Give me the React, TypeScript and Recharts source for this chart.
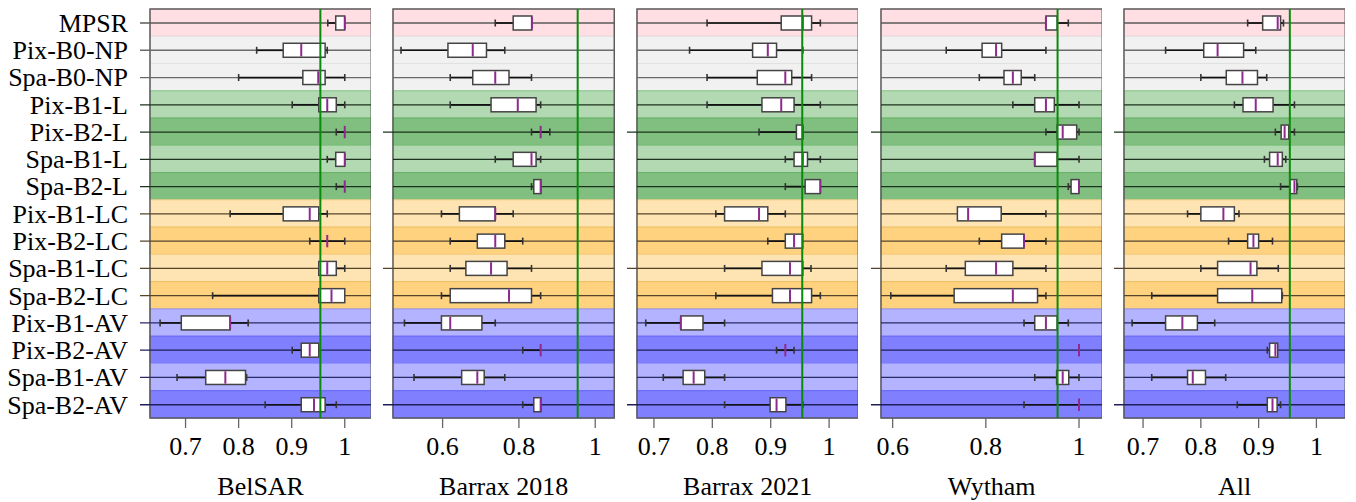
import {
  Bar,
  ComposedChart,
  ReferenceArea,
  ReferenceLine,
  XAxis,
  YAxis,
} from "recharts";

const methods = [
  "MPSR",
  "Pix-B0-NP",
  "Spa-B0-NP",
  "Pix-B1-L",
  "Pix-B2-L",
  "Spa-B1-L",
  "Spa-B2-L",
  "Pix-B1-LC",
  "Pix-B2-LC",
  "Spa-B1-LC",
  "Spa-B2-LC",
  "Pix-B1-AV",
  "Pix-B2-AV",
  "Spa-B1-AV",
  "Spa-B2-AV",
];

// each row: [whisker low, q1, median, q3, whisker high]
const belsar = [
  [0.968, 0.983, 1.0, 1.0, 1.0],
  [0.834, 0.884, 0.918, 0.963, 0.967],
  [0.8, 0.921, 0.95, 0.963, 1.0],
  [0.901, 0.951, 0.967, 0.984, 1.0],
  [0.984, 1.0, 1.0, 1.0, 1.0],
  [0.967, 0.983, 1.0, 1.0, 1.0],
  [0.984, 1.0, 1.0, 1.0, 1.0],
  [0.784, 0.884, 0.934, 0.951, 0.967],
  [0.934, 0.967, 0.967, 0.967, 1.0],
  [0.951, 0.951, 0.967, 0.984, 1.0],
  [0.751, 0.951, 0.975, 1.0, 1.0],
  [0.652, 0.692, 0.784, 0.784, 0.818],
  [0.901, 0.918, 0.934, 0.951, 0.951],
  [0.684, 0.738, 0.775, 0.813, 0.815],
  [0.85, 0.918, 0.942, 0.963, 0.984],
];

const barrax2018 = [
  [0.738, 0.785, 0.834, 0.834, 0.834],
  [0.491, 0.614, 0.679, 0.715, 0.763],
  [0.62, 0.679, 0.738, 0.774, 0.833],
  [0.62, 0.727, 0.797, 0.845, 0.857],
  [0.833, 0.857, 0.857, 0.857, 0.881],
  [0.738, 0.785, 0.833, 0.845, 0.857],
  [0.833, 0.839, 0.857, 0.858, 0.858],
  [0.597, 0.644, 0.738, 0.738, 0.785],
  [0.62, 0.691, 0.738, 0.763, 0.81],
  [0.62, 0.661, 0.727, 0.769, 0.833],
  [0.597, 0.62, 0.774, 0.833, 0.857],
  [0.5, 0.597, 0.62, 0.703, 0.738],
  [0.81, 0.857, 0.857, 0.857, 0.857],
  [0.525, 0.65, 0.691, 0.709, 0.763],
  [0.81, 0.839, 0.857, 0.858, 0.858],
];

const barrax2021 = [
  [0.791, 0.918, 0.955, 0.97, 0.985],
  [0.761, 0.869, 0.895, 0.91, 0.955],
  [0.791, 0.877, 0.925, 0.936, 0.97],
  [0.791, 0.885, 0.918, 0.94, 0.985],
  [0.88, 0.944, 0.955, 0.955, 0.955],
  [0.925, 0.94, 0.955, 0.963, 0.985],
  [0.925, 0.959, 0.985, 0.985, 0.985],
  [0.806, 0.821, 0.88, 0.895, 0.925],
  [0.895, 0.925, 0.94, 0.955, 0.955],
  [0.821, 0.885, 0.933, 0.955, 0.969],
  [0.806, 0.903, 0.933, 0.97, 0.985],
  [0.686, 0.746, 0.746, 0.784, 0.821],
  [0.91, 0.925, 0.925, 0.925, 0.94],
  [0.716, 0.75, 0.768, 0.787, 0.821],
  [0.821, 0.899, 0.91, 0.926, 0.955],
];

const wytham = [
  [0.929, 0.929, 0.929, 0.953, 0.977],
  [0.715, 0.792, 0.822, 0.834, 0.929],
  [0.786, 0.839, 0.858, 0.876, 0.905],
  [0.858, 0.905, 0.929, 0.947, 1.0],
  [0.929, 0.953, 0.965, 0.995, 1.0],
  [0.905, 0.905, 0.905, 0.953, 1.0],
  [0.977, 0.983, 1.0, 1.0, 1.0],
  [0.739, 0.739, 0.762, 0.833, 0.929],
  [0.786, 0.834, 0.882, 0.882, 0.929],
  [0.715, 0.756, 0.822, 0.858, 0.929],
  [0.596, 0.732, 0.858, 0.911, 0.929],
  [0.882, 0.905, 0.929, 0.953, 0.977],
  [1.0, 1.0, 1.0, 1.0, 1.0],
  [0.905, 0.952, 0.965, 0.978, 1.0],
  [0.882, 1.0, 1.0, 1.0, 1.0],
];

const all = [
  [0.881, 0.907, 0.933, 0.938, 0.943],
  [0.739, 0.805, 0.829, 0.874, 0.895],
  [0.8, 0.844, 0.872, 0.898, 0.914],
  [0.858, 0.873, 0.895, 0.925, 0.962],
  [0.929, 0.939, 0.945, 0.952, 0.962],
  [0.91, 0.919, 0.933, 0.941, 0.947],
  [0.938, 0.954, 0.962, 0.966, 0.967],
  [0.777, 0.8, 0.839, 0.858, 0.866],
  [0.848, 0.881, 0.891, 0.9, 0.924],
  [0.8, 0.829, 0.886, 0.897, 0.934],
  [0.715, 0.829, 0.889, 0.94, 0.941],
  [0.681, 0.739, 0.768, 0.794, 0.824],
  [0.915, 0.919, 0.929, 0.933, 0.933],
  [0.715, 0.777, 0.786, 0.808, 0.843],
  [0.863, 0.915, 0.924, 0.932, 0.938],
];

const panelTitles = ["BelSAR", "Barrax 2018", "Barrax 2021", "Wytham", "All"];
const panelStats = [belsar, barrax2018, barrax2021, wytham, all];
const panelMin = [0.633, 0.47, 0.671, 0.575, 0.667];
const panelTicks = [
  [0.7, 0.8, 0.9, 1],
  [0.6, 0.8, 1],
  [0.7, 0.8, 0.9, 1],
  [0.6, 0.8, 1],
  [0.7, 0.8, 0.9, 1],
];
const axisMax = 1.05;
const threshold = 0.954;
const sparseTicks = ["Pix-B2-L", "Spa-B1-LC", "Spa-B2-AV"];

// row background groups
const ROW_KIND = [
  "pink", "gray", "gray",
  "gL", "gD", "gL", "gD",
  "oL", "oD", "oL", "oD",
  "bL", "bD", "bL", "bD",
];
const KIND_STYLE: Record<string, { fill: string; stroke: string; line: string }> = {
  pink: { fill: "#ffdee4", stroke: "#f3c9d1", line: "#5a5a5a" },
  gray: { fill: "#f1f1f1", stroke: "#e0e0e0", line: "#6a6a6a" },
  gL: { fill: "#b3d9b3", stroke: "#86c486", line: "#1d331d" },
  gD: { fill: "#80bf80", stroke: "#66b066", line: "#1d331d" },
  oL: { fill: "#ffe4b3", stroke: "#f5cf8a", line: "#54452a" },
  oD: { fill: "#ffd280", stroke: "#eebd5c", line: "#54452a" },
  bL: { fill: "#b3b3ff", stroke: "#9494fb", line: "#2a2a66" },
  bD: { fill: "#8080ff", stroke: "#6262f2", line: "#1f1f5c" },
};

const FONT = "'Liberation Serif', 'Times New Roman', serif";
const FS = 26;
const PLOT_LEFT = [150, 393.3, 637, 880.7, 1123.7];
const PLOT_W = 221.3;
const CHART_H = 502;
const TICK = 10;

function BoxShape(props: any) {
  const { x, y, width, height, payload, background } = props;
  const [lo, q1, med, q3, hi] = payload.stats as number[];
  const span = hi - lo;
  const px = (v: number) => (span > 0 ? x + ((v - lo) / span) * width : x);
  const cy = y + height / 2;
  const kind = KIND_STYLE[payload.kind];
  const cap = 3.5;
  return (
    <g>
      {background && (
        <line
          x1={background.x - (payload.tick ? TICK : 0)}
          x2={background.x + background.width}
          y1={cy}
          y2={cy}
          stroke={kind.line}
          strokeWidth={1.3}
        />
      )}
      {lo < q1 && (
        <>
          <line x1={px(lo)} x2={px(q1)} y1={cy} y2={cy} stroke="#111" strokeWidth={1.7} />
          <line x1={px(lo)} x2={px(lo)} y1={cy - cap} y2={cy + cap} stroke="#333" strokeWidth={1.6} />
        </>
      )}
      {hi > q3 && (
        <>
          <line x1={px(q3)} x2={px(hi)} y1={cy} y2={cy} stroke="#111" strokeWidth={1.7} />
          <line x1={px(hi)} x2={px(hi)} y1={cy - cap} y2={cy + cap} stroke="#333" strokeWidth={1.6} />
        </>
      )}
      {q3 > q1 && (
        <rect
          x={px(q1)}
          y={y}
          width={px(q3) - px(q1)}
          height={height}
          fill="#fff"
          stroke="#444"
          strokeWidth={1.5}
        />
      )}
      <line x1={px(med)} x2={px(med)} y1={y + 0.8} y2={y + height - 0.8} stroke="#8e2a8e" strokeWidth={2} />
    </g>
  );
}

function Panel({ index }: { index: number }) {
  const first = index === 0;
  const yw = first ? 150 : 12;
  const data = methods.map((name, i) => ({
    name,
    kind: ROW_KIND[i],
    tick: first || sparseTicks.includes(name),
    stats: panelStats[index][i],
    range: [panelStats[index][i][0], panelStats[index][i][4]],
  }));
  return (
    <div
      style={{
        position: "absolute",
        left: PLOT_LEFT[index] - yw,
        top: 0,
      }}
    >
      <ComposedChart
        width={yw + PLOT_W}
        height={CHART_H}
        data={data}
        layout="vertical"
        margin={{ top: 9, right: 0, bottom: 0, left: 0 }}
        barSize={14}
      >
        <XAxis
          type="number"
          domain={[panelMin[index], axisMax]}
          ticks={panelTicks[index]}
          tickFormatter={(v: number) => String(v)}
          axisLine={false}
          tickLine={{ stroke: "#666", strokeWidth: 1.3 }}
          tickSize={TICK}
          tickMargin={9}
          height={84}
          tick={{ fontSize: FS, fill: "#000" }}
          label={{
            value: panelTitles[index],
            position: "insideBottom",
            offset: 7,
            fontSize: FS,
            fill: "#000",
          }}
        />
        <YAxis
          type="category"
          dataKey="name"
          width={yw}
          interval={0}
          axisLine={false}
          tickLine={false}
          tickSize={TICK}
          tickMargin={12}
          tick={first ? { fontSize: FS, fill: "#000" } : false}
        />
        {methods.map((name, i) => (
          <ReferenceArea
            key={name}
            y1={name}
            y2={name}
            fill={KIND_STYLE[ROW_KIND[i]].fill}
            fillOpacity={1}
            stroke={KIND_STYLE[ROW_KIND[i]].stroke}
            strokeWidth={1}
          />
        ))}
        <ReferenceArea
          y1={methods[0]}
          y2={methods[methods.length - 1]}
          fill="none"
          stroke="#5c5c5c"
          strokeWidth={1.5}
        />
        <Bar dataKey="range" shape={BoxShape} isAnimationActive={false} />
        <ReferenceLine x={threshold} stroke="#0a8a0a" strokeWidth={2} />
      </ComposedChart>
    </div>
  );
}

export default function App() {
  return (
    <div
      style={{
        position: "absolute",
        left: 0,
        top: 0,
        width: 1356,
        height: CHART_H,
        background: "#fff",
        fontFamily: FONT,
      }}
    >
      {panelTitles.map((t, i) => (
        <Panel key={t} index={i} />
      ))}
    </div>
  );
}
